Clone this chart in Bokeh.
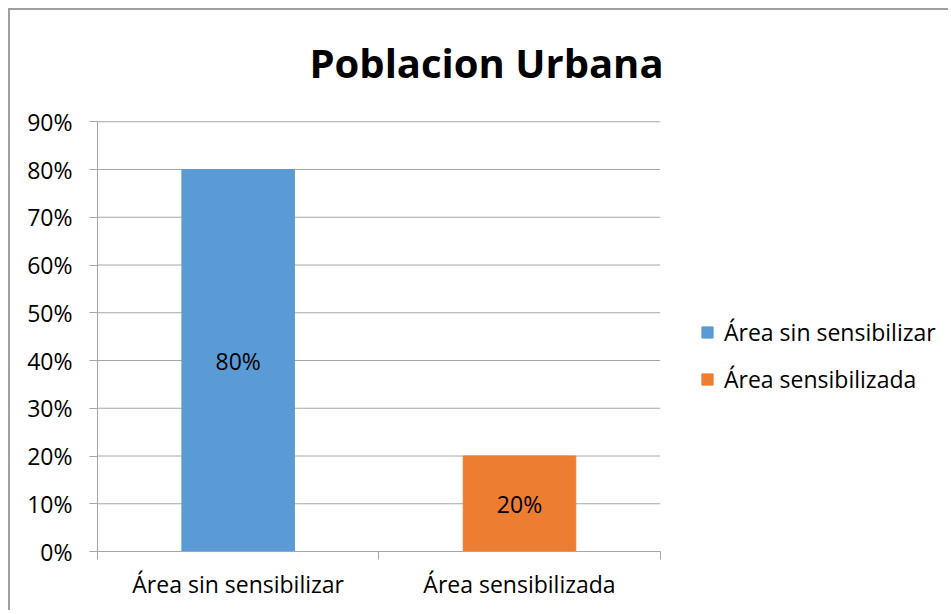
from bokeh.plotting import figure
from bokeh.models import (ColumnDataSource, FixedTicker, Range1d, Legend, LegendItem,
                          LabelSet, Label, NumeralTickFormatter)
from bokeh.core.properties import value
from bokeh.embed import file_html
from bokeh.resources import INLINE

title_text = "Poblacion Urbana"
categories = ["Área sin sensibilizar", "Área sensibilizada"]
values = [0.80, 0.20]
value_labels = ["80%", "20%"]
colors = ["#5B9BD5", "#ED7D31"]
y_ticks = [0.0, 0.1, 0.2, 0.3, 0.4, 0.5, 0.6, 0.7, 0.8, 0.9]

FONT = "Open Sans"
FS = "23px"
GRID = "#A6A6A6"

n = len(categories)
y_max = y_ticks[-1]
xs = [i + 0.5 for i in range(n)]
src = ColumnDataSource(dict(x=xs, top=values, cat=categories, color=colors,
                            mid=[v / 2 for v in values], lab=value_labels))

# frame extends right (legend) and up (title); axes/grid limited to the data area
p = figure(width=940, height=602, output_backend="svg", toolbar_location=None,
           x_range=Range1d(0, n + 1), y_range=Range1d(0, 1.133),
           min_border_left=87, min_border_right=9, min_border_top=0,
           min_border_bottom=61)
p.styles = {"border-top": "2px solid #A0A0A0", "border-left": "2px solid #A0A0A0",
            "margin-top": "8px", "margin-left": "8px"}
p.outline_line_color = None
p.xgrid.grid_line_color = None
p.ygrid.grid_line_color = None

# horizontal gridlines across the category area only
p.segment(x0=[0] * len(y_ticks), x1=[n] * len(y_ticks), y0=y_ticks, y1=y_ticks,
          line_color=GRID, line_width=1)

r = p.vbar(x="x", top="top", width=0.4, color="color", source=src)

p.add_layout(LabelSet(x="x", y="mid", text="lab", source=src, text_align="center",
                      text_baseline="middle", text_font=value(FONT), text_font_size=FS,
                      text_color="black"))

# title
p.add_layout(Label(x=389, y=489, x_units="screen", y_units="screen", text=title_text,
                   text_align="center", text_baseline="middle", text_font=FONT,
                   text_font_size="40px", text_font_style="bold", text_color="black"))

# y axis
p.yaxis.ticker = FixedTicker(ticks=y_ticks)
p.yaxis.bounds = (0, y_max)
p.yaxis.formatter = NumeralTickFormatter(format="0%")
p.yaxis.major_label_text_font = FONT
p.yaxis.major_label_text_font_size = FS
p.yaxis.major_label_text_color = "black"
p.yaxis.axis_line_color = GRID
p.yaxis.major_tick_line_color = GRID
p.yaxis.major_tick_out = 8
p.yaxis.major_tick_in = 0
p.yaxis.minor_tick_line_color = None
p.yaxis.major_label_standoff = 17

# x axis
p.xaxis.ticker = FixedTicker(ticks=xs, minor_ticks=list(range(n + 1)))
p.xaxis.major_label_overrides = {x: c for x, c in zip(xs, categories)}
p.xaxis.bounds = (0, n)
p.xaxis.major_label_text_font = FONT
p.xaxis.major_label_text_font_size = FS
p.xaxis.major_label_text_color = "black"
p.xaxis.axis_line_color = GRID
p.xaxis.major_tick_line_color = None
p.xaxis.major_tick_out = 0
p.xaxis.major_tick_in = 0
p.xaxis.minor_tick_line_color = GRID
p.xaxis.minor_tick_out = 8
p.xaxis.minor_tick_in = 0
p.xaxis.major_label_standoff = 8

# legend
items = [LegendItem(label=c, renderers=[r], index=i) for i, c in enumerate(categories)]
legend = Legend(items=items, location=(603, 156), border_line_color=None,
                background_fill_alpha=0, padding=0, margin=0, spacing=15,
                glyph_width=14, glyph_height=14, label_standoff=10, label_height=24,
                label_text_font=FONT, label_text_font_size=FS, label_text_color="black")
p.add_layout(legend, "center")

open("out.html", "w").write(file_html(p, INLINE))
